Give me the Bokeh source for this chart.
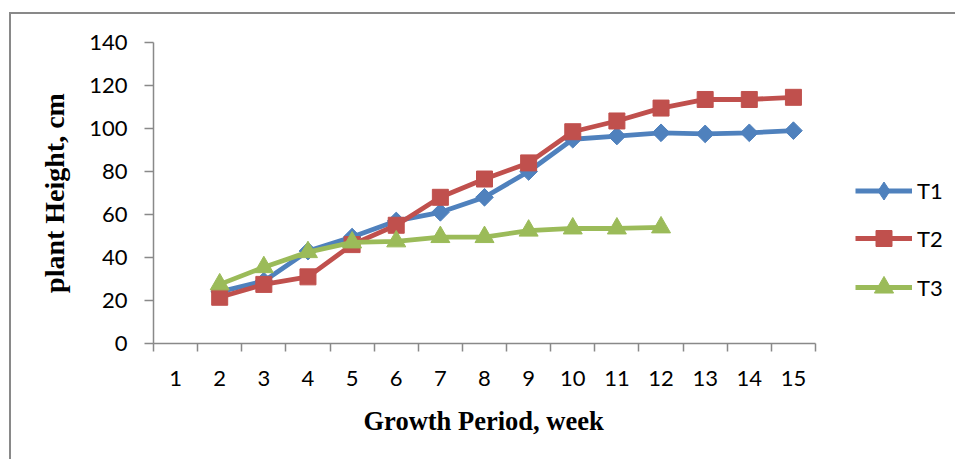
from bokeh.plotting import figure
from bokeh.models import FixedTicker, Legend, LegendItem, Range1d, InlineStyleSheet, Title
from bokeh.embed import file_html
from bokeh.resources import INLINE
import numpy as np

# Weekly plant height (cm) for three treatments
week_labels = [str(w) for w in range(1, 16)]
t1_weeks = [2, 3, 4, 5, 6, 7, 8, 9, 10, 11, 12, 13, 14, 15]
t1_height = [24, 29, 43, 49.5, 57, 61, 68, 80, 95, 96.5, 98, 97.5, 98, 99]
t2_weeks = [2, 3, 4, 5, 6, 7, 8, 9, 10, 11, 12, 13, 14, 15]
t2_height = [21.5, 27.5, 31, 46, 55, 68, 76.5, 84, 98.5, 103.5, 109.5, 113.5, 113.5, 114.5]
t3_weeks = [2, 3, 4, 5, 6, 7, 8, 9, 10, 11, 12]
t3_height = [27.5, 35.5, 42.5, 47, 47.5, 49.5, 49.5, 52.5, 53.5, 53.5, 54]
y_ticks = [0, 20, 40, 60, 80, 100, 120, 140]

AXIS_GREY = "#898989"
TICK_FONT = "Lato"
TITLE_FONT = "Liberation Serif"

# grey chart-area border (left and top edges visible)
border_css = InlineStyleSheet(css="""
:host { position: relative; }
:host::after {
  content: ""; position: absolute; left: 9px; top: 12px; right: -20px; bottom: -20px;
  border-left: 2px solid #898989; border-top: 2px solid #898989;
  pointer-events: none;
}
""")

# the frame extends to the right so the legend can sit inside it;
# the category axis itself is bounded to weeks 1..15
LEFT, RIGHT_PAD = 153, 5
cat_px = (815 - LEFT) / 15.0
x_end = 0.5 + (955 - RIGHT_PAD - LEFT) / cat_px

p = figure(width=955, height=459, output_backend="svg", toolbar_location=None,
           x_range=Range1d(0.5, x_end), y_range=Range1d(0, 140),
           min_border_left=LEFT, min_border_right=RIGHT_PAD,
           min_border_top=42, min_border_bottom=116,
           stylesheets=[border_css])
p.background_fill_color = "white"
p.border_fill_color = "white"
p.outline_line_color = None
p.xgrid.visible = False
p.ygrid.visible = False

# category axis: labels at the centres, tick marks between categories
xa = p.xaxis[0]
xa.bounds = (0.5, 15.5)
xa.ticker = FixedTicker(ticks=list(range(1, 16)),
                        minor_ticks=[i + 0.5 for i in range(0, 16)])
xa.major_label_overrides = {i + 1: lab for i, lab in enumerate(week_labels)}
xa.major_tick_out = 0
xa.major_tick_in = 0
xa.minor_tick_out = 8
xa.minor_tick_in = 0
xa.minor_tick_line_color = AXIS_GREY
xa.minor_tick_line_width = 1.5
xa.axis_line_color = AXIS_GREY
xa.axis_line_width = 1.5
xa.major_label_text_font = TICK_FONT
xa.major_label_text_font_size = "22px"
xa.major_label_text_color = "black"
xa.major_label_standoff = 19
# a blank, tiny axis label just adds a little room under the tick labels
xa.axis_label = " "
xa.axis_label_text_font_size = "1px"
xa.axis_label_standoff = 6

# x title centred under the category axis (not the wider frame)
p.add_layout(Title(text="Growth Period, week", align="left", offset=210,
                   text_font=TITLE_FONT, text_font_style="bold",
                   text_font_size="26.5px", text_color="black"), "below")

ya = p.yaxis[0]
ya.ticker = FixedTicker(ticks=y_ticks, minor_ticks=[])
ya.major_tick_out = 9
ya.major_tick_in = 0
ya.major_tick_line_color = AXIS_GREY
ya.major_tick_line_width = 1.5
ya.axis_line_color = AXIS_GREY
ya.axis_line_width = 1.5
ya.major_label_text_font = TICK_FONT
ya.major_label_text_font_size = "22px"
ya.major_label_text_color = "black"
ya.major_label_standoff = 17
ya.axis_label = "plant Height, cm"
ya.axis_label_text_font = TITLE_FONT
ya.axis_label_text_font_style = "bold"
ya.axis_label_text_font_size = "28px"
ya.axis_label_text_color = "black"
ya.axis_label_standoff = 16

# (name, weeks, heights, colour, marker, angle, size, legend marker, legend size)
series = [
    ("T1", t1_weeks, t1_height, "#4F81BD", "square", np.pi / 4, 12.5, "diamond", 18),
    ("T2", t2_weeks, t2_height, "#C0504D", "square", 0, 16, "square", 16),
    ("T3", t3_weeks, t3_height, "#9BBB59", "triangle", 0, 19, "triangle", 19),
]

# legend rows: vertical centre of each row, measured up from the frame bottom
legend_rows = [153, 105, 56]

for (name, xs, ys, color, marker, ang, size, lmark, lsize), row in zip(series, legend_rows):
    ln = p.line(xs, ys, line_color=color, line_width=4.8, line_join="round")
    sc = p.scatter(xs, ys, marker=marker, angle=ang, size=size,
                   fill_color=color, line_color=color, line_width=1)
    # key marker for the legend only (hidden in the plot area)
    key = p.scatter(xs, ys, marker=lmark, size=lsize, fill_color=color,
                    line_color=color, line_width=1, visible=False)
    # legend markers are drawn at 0.4 x the row height
    gh = int(round(lsize / 0.4))
    leg = Legend(items=[LegendItem(label=name, renderers=[ln, key])],
                 location=(702, row - gh / 2),
                 glyph_width=57, glyph_height=gh, label_height=gh,
                 padding=0, margin=0, label_standoff=5,
                 label_text_font=TICK_FONT, label_text_font_size="22px",
                 label_text_color="black", inactive_fill_alpha=0,
                 border_line_color=None, background_fill_alpha=0)
    p.add_layout(leg, "center")

open("out.html", "w").write(file_html(p, INLINE))
